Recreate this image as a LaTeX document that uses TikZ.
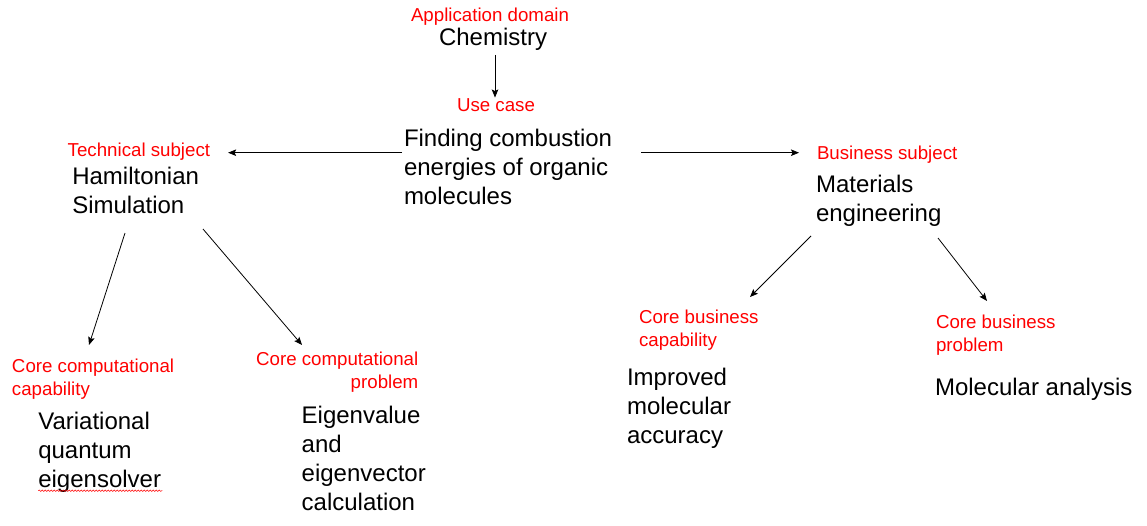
\documentclass[tikz,border=0pt]{standalone}
\usepackage{fontspec}
\setmainfont{Liberation Sans}
\usetikzlibrary{arrows.meta,calc,decorations.pathmorphing}
\begin{document}
\begin{tikzpicture}[x=1pt,y=-1pt,
  lab/.style={anchor=base west, inner sep=0pt, outer sep=0pt, text=red,
    font=\fontsize{18.7}{23}\selectfont, align=left},
  main/.style={anchor=base west, inner sep=0pt, outer sep=0pt,
    font=\fontsize{24}{29}\selectfont, align=left},
  arr/.style={-{Stealth[length=8pt,width=6.5pt,inset=1.5pt]}, line width=0.8pt},
  spell/.style={red, line width=0.5pt, decorate,
    decoration={snake, amplitude=0.7pt, segment length=3pt}}]
\useasboundingbox (0,0) rectangle (1147,525);

% (multi-line nodes: base = baseline of the last line)
% top
\node[lab, anchor=base] (appl) at (490,21) {Application domain};
\node[main, anchor=base] (chem) at (493,45) {Chemistry};
\node[lab, anchor=base] (uselab) at (496,111.7) {Use case};
\node[main] (usecase) at (404,204) {Finding combustion\\energies of organic\\molecules};

% left branch
\node[lab] (techlab) at (67.7,156) {Technical subject};
\node[main] (tech) at (72.3,213.5) {Hamiltonian\\Simulation};
\node[lab] (ccclab) at (12,395.5) {Core computational\\capability};
\node[main] (ccc) at (38.3,487) {Variational\\quantum\\eigensolver};
\node[lab, anchor=base east, align=right] (ccplab) at (418.3,388.5) {Core computational\\problem};
\node[main] (ccp) at (301.7,510.5) {Eigenvalue\\and\\eigenvector\\calculation};

% right branch
\node[lab] (buslab) at (817,159.3) {Business subject};
\node[main] (bus) at (816,221) {Materials\\engineering};
\node[lab] (cbclab) at (639,346.8) {Core business\\capability};
\node[main] (cbc) at (627,443.5) {Improved\\molecular\\accuracy};
\node[lab] (cbplab) at (936,351.8) {Core business\\problem};
\node[main] (cbp) at (935,395.7) {Molecular analysis};

% connectors
\draw[arr] ($(chem.south)+(2,5)$) -- ($(uselab.north)+(-1,-1.3)$);
\draw[arr] ($(usecase.base west)+(-2,-51.3)$) -- ($(techlab.base east)+(18,-3.3)$);
\draw[arr] ($(usecase.base east)+(29,-51.3)$) -- ($(buslab.base west)+(-18,-6.6)$);
\draw[arr] ($(tech.base west)+(52.7,19.5)$) -- ($(ccclab.base west)+(77,-50.5)$);
\draw[arr] ($(tech.base west)+(130.7,15.5)$) -- ($(ccplab.base east)+(-116.3,-43.5)$);
\draw[arr] ($(bus.base west)+(-5,15)$) -- ($(cbclab.base west)+(111,-49.8)$);
\draw[arr] ($(bus.base west)+(122,17)$) -- ($(cbplab.base west)+(51,-50.8)$);

% spell-check underline
\draw[spell] ($(ccc.base west)+(0,3.7)$) -- ($(ccc.base west)+(124,3.7)$);
\end{tikzpicture}
\end{document}
